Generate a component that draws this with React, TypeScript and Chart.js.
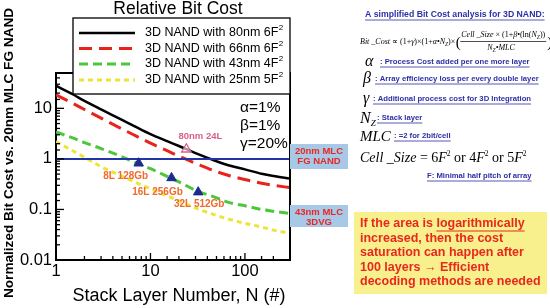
import React, { useEffect, useRef } from "react";
import { Chart, registerables } from "chart.js";

Chart.register(...registerables);

// ---- data ----
const stackLayers = [1, 1.5, 2, 3, 5, 7, 10, 15, 20, 30, 50, 70, 100, 150, 200, 300];
const cost80nm6F2 = [28, 19, 14, 9.5, 5.9, 4.3, 3.1, 2.25, 1.8, 1.3, 0.9, 0.73, 0.62, 0.51, 0.46, 0.41];
const cost66nm6F2 = [18.6, 12.6, 9.5, 6.4, 3.9, 2.85, 2.05, 1.45, 1.13, 0.82, 0.56, 0.46, 0.39, 0.33, 0.3, 0.27];
const cost43nm4F2 = [3.4, 2.6, 2.1, 1.6, 1.1, 0.84, 0.64, 0.45, 0.35, 0.24, 0.17, 0.135, 0.118, 0.1, 0.092, 0.083];
const cost25nm5F2 = [2.2, 1.45, 1.08, 0.7, 0.455, 0.34, 0.257, 0.186, 0.147, 0.107, 0.076, 0.063, 0.053, 0.045, 0.039, 0.034];
const seriesNames = ["3D NAND with 80nm 6F", "3D NAND with 66nm 6F", "3D NAND with 43nm 4F", "3D NAND with 25nm 5F"];

const productLayers = [7.5, 16.7, 32];
const productCost = [0.82, 0.42, 0.22];
const productLabels = ["8L 128Gb", "16L 256Gb", "32L 512Gb"];

const refLayers = [24];
const refCost = [1.55];
const refLabel = "80nm 24L";

const fgNandLevel = 1;
const xRange = [1, 300];
const yRange = [0.01, 50];

const paramLines = ["\u03b1=1%", "\u03b2=1%", "\u03b3=20%"];
const noteLines = [
  "If the area is logarithmically",
  "increased, then the cost",
  "saturation can happen after",
  "100 layers \u2192 Efficient",
  "decoding methods are needed",
];

const SANS = '"Liberation Sans", Arial, sans-serif';
const SERIF = '"Liberation Serif", "Times New Roman", serif';
const colors = ["#000000", "#e8231b", "#4cc63c", "#ece536"];
const dashes: number[][] = [[], [13, 7], [9, 5], [5, 4]];
const widths = [2.5, 3, 3, 3];
const BLUE_TXT = "#2d2fa6";

const isPow10 = (v: number) => Math.abs(Math.log10(v) - Math.round(Math.log10(v))) < 1e-6;

function underlineText(ctx: CanvasRenderingContext2D, text: string, x: number, y: number, color: string) {
  ctx.fillStyle = color;
  ctx.textBaseline = "middle";
  ctx.textAlign = "left";
  ctx.fillText(text, x, y);
  const w = ctx.measureText(text).width;
  ctx.strokeStyle = color;
  ctx.lineWidth = 0.8;
  ctx.setLineDash([]);
  ctx.beginPath();
  ctx.moveTo(x, y + 5);
  ctx.lineTo(x + w, y + 5);
  ctx.stroke();
}

function drawRun(ctx: CanvasRenderingContext2D, x: number, y: number, parts: [string, string, number][], color: string) {
  ctx.fillStyle = color;
  ctx.textBaseline = "alphabetic";
  ctx.textAlign = "left";
  let cx = x;
  for (const [t, f, dy] of parts) {
    ctx.font = f;
    ctx.fillText(t, cx, y + dy);
    cx += ctx.measureText(t).width;
  }
  return cx;
}

const decorPlugin = {
  id: "decor",
  afterDraw(chart: any) {
    const ctx: CanvasRenderingContext2D = chart.ctx;
    const { left, right, top, bottom } = chart.chartArea;
    const xs = chart.scales.x;
    const ys = chart.scales.y;
    ctx.save();

    // keep area above the plot clean
    ctx.fillStyle = "#fff";
    ctx.fillRect(left - 3, 0, right - left + 6, top - 1.5);

    // frame top/right
    ctx.strokeStyle = "#000";
    ctx.lineWidth = 2;
    ctx.setLineDash([]);
    ctx.beginPath();
    ctx.moveTo(left - 1, top);
    ctx.lineTo(right, top);
    ctx.lineTo(right, bottom);
    ctx.stroke();

    // inward ticks
    ctx.lineWidth = 1.3;
    for (const t of xs.ticks) {
      const px = xs.getPixelForValue(t.value);
      if (px < left + 1 || px > right - 1) continue;
      const len = isPow10(t.value) ? 7 : 4;
      ctx.beginPath();
      ctx.moveTo(px, bottom);
      ctx.lineTo(px, bottom - len);
      ctx.stroke();
    }
    for (const t of ys.ticks) {
      const py = ys.getPixelForValue(t.value);
      if (py < top + 1 || py > bottom - 1) continue;
      const len = isPow10(t.value) ? 8 : 4;
      ctx.beginPath();
      ctx.moveTo(left, py);
      ctx.lineTo(left + len, py);
      ctx.stroke();
    }

    // title
    ctx.fillStyle = "#000";
    ctx.font = `17.5px ${SANS}`;
    ctx.textAlign = "center";
    ctx.textBaseline = "middle";
    ctx.fillText("Relative Bit Cost", 178, 9);

    // axis titles
    ctx.font = `18px ${SANS}`;
    ctx.fillText("Stack Layer Number, N (#)", 179, 296);
    ctx.save();
    ctx.translate(9, 153);
    ctx.rotate(-Math.PI / 2);
    ctx.font = `bold 13.6px ${SANS}`;
    ctx.fillText("Normalized Bit Cost vs. 20nm MLC FG NAND", 0, 0);
    ctx.restore();

    // legend
    ctx.fillStyle = "#fff";
    ctx.fillRect(73, 18, 217, 76);
    ctx.strokeStyle = "#000";
    ctx.lineWidth = 1.3;
    ctx.strokeRect(73, 18, 217, 76);
    const rows = [33, 48.5, 64, 80];
    seriesNames.forEach((name, i) => {
      ctx.strokeStyle = colors[i];
      ctx.lineWidth = widths[i];
      ctx.setLineDash(dashes[i]);
      ctx.beginPath();
      ctx.moveTo(79, rows[i]);
      ctx.lineTo(135, rows[i]);
      ctx.stroke();
      ctx.setLineDash([]);
      ctx.fillStyle = "#000";
      ctx.font = `12.5px ${SANS}`;
      ctx.textAlign = "left";
      ctx.textBaseline = "middle";
      ctx.fillText(name, 145, rows[i]);
      const w = ctx.measureText(name).width;
      ctx.font = `8px ${SANS}`;
      ctx.fillText("2", 145 + w + 0.5, rows[i] - 5);
    });

    // alpha beta gamma
    ctx.fillStyle = "#000";
    ctx.font = `15.5px ${SANS}`;
    ctx.textAlign = "left";
    ctx.textBaseline = "middle";
    paramLines.forEach((t, i) => ctx.fillText(t, 240, 108 + i * 18));

    // ref label
    const rpx = xs.getPixelForValue(refLayers[0]);
    const rpy = ys.getPixelForValue(refCost[0]);
    ctx.fillStyle = "#d8608a";
    ctx.font = `bold 9.5px ${SANS}`;
    ctx.textAlign = "center";
    ctx.fillText(refLabel, rpx + 14, rpy - 13);

    // product labels
    ctx.fillStyle = "#ef6a2e";
    ctx.font = `bold 10px ${SANS}`;
    const offs = [[-13, 13], [-14, 14], [1, 12]];
    productLabels.forEach((t, i) => {
      const px = xs.getPixelForValue(productLayers[i]);
      const py = ys.getPixelForValue(productCost[i]);
      ctx.fillText(t, px + offs[i][0], py + offs[i][1]);
    });

    // blue boxes
    const boxes: [number, number, string, string][] = [
      [144, 169, "20nm MLC", "FG NAND"],
      [205, 227, "43nm MLC", "3DVG"],
    ];
    for (const [y0, y1, l1, l2] of boxes) {
      ctx.fillStyle = "#a8c8e8";
      ctx.fillRect(290, y0, 58, y1 - y0);
      ctx.fillStyle = "#e8281e";
      ctx.font = `bold 9.5px ${SANS}`;
      ctx.textAlign = "center";
      ctx.textBaseline = "middle";
      ctx.fillText(l1, 319, y0 + 7);
      ctx.fillText(l2, 319, y0 + 17);
    }

    // right panel
    ctx.font = `bold 8.7px ${SANS}`;
    underlineText(ctx, "A simplified Bit Cost analysis for 3D NAND:", 365, 15, BLUE_TXT);

    const fi = `italic 8px ${SERIF}`;
    const fu = `8px ${SERIF}`;
    const fs = `italic 5.5px ${SERIF}`;
    let cx = drawRun(ctx, 360, 44, [
      ["Bit _Cost", fi, 0], [" \u221d (1+", fu, 0], ["\u03b3", fi, 0], [")\u00d7(1+", fu, 0],
      ["\u03b1", fi, 0], ["\u2022", fu, 0], ["N", fi, 0], ["Z", fs, 2], [")\u00d7", fu, 0],
    ], "#000");
    ctx.font = `15px ${SERIF}`;
    ctx.fillStyle = "#000";
    ctx.fillText("(", cx + 0.5, 47);
    const fx = cx + 6;
    const numParts: [string, string, number][] = [
      ["Cell _Size", fi, 0], [" \u00d7 (1+", fu, 0], ["\u03b2", fi, 0], ["\u2022(ln(", fu, 0],
      ["N", fi, 0], ["Z", fs, 2], ["))", fu, 0],
    ];
    const endNum = drawRun(ctx, fx, 37, numParts, "#000");
    ctx.strokeStyle = "#000";
    ctx.lineWidth = 0.7;
    ctx.beginPath();
    ctx.moveTo(fx - 1, 41.5);
    ctx.lineTo(endNum + 1, 41.5);
    ctx.stroke();
    const mid = (fx + endNum) / 2;
    drawRun(ctx, mid - 16, 50, [["N", fi, 0], ["Z", fs, 2], ["\u2022MLC", fi, 0]], "#000");
    ctx.font = `15px ${SERIF}`;
    ctx.fillText(")", endNum + 2, 47);

    const defs: [string, number, number, string][] = [
      ["\u03b1", 365, 62, ": Process Cost added per one more layer"],
      ["\u03b2", 363, 79, ": Array efficiency loss per every double layer"],
      ["\u03b3", 363, 99, ": Additional process cost for 3D Integration"],
    ];
    const txtX = [380, 375, 373];
    defs.forEach(([g, gx, gy, t], i) => {
      ctx.fillStyle = "#000";
      ctx.font = `italic 16px ${SERIF}`;
      ctx.textBaseline = "middle";
      ctx.textAlign = "left";
      ctx.fillText(g, gx, gy);
      ctx.font = `bold 7.7px ${SANS}`;
      underlineText(ctx, t, txtX[i], gy, BLUE_TXT);
    });
    drawRun(ctx, 360, 123, [["N", `italic 16px ${SERIF}`, 0], ["Z", `italic 9px ${SERIF}`, 3]], "#000");
    ctx.font = `bold 7.7px ${SANS}`;
    underlineText(ctx, ": Stack layer", 377, 118, BLUE_TXT);
    drawRun(ctx, 360, 141, [["MLC", `italic 15px ${SERIF}`, 0]], "#000");
    ctx.font = `bold 7.7px ${SANS}`;
    underlineText(ctx, ": =2 for 2bit/cell", 394, 136, BLUE_TXT);
    const fI = `italic 14px ${SERIF}`;
    const fU = `14px ${SERIF}`;
    const fS = `7.5px ${SERIF}`;
    drawRun(ctx, 360, 162, [
      ["Cell _Size", fI, 0], [" = 6", fU, 0], ["F", fI, 0], ["2", fS, -6],
      [" or 4", fU, 0], ["F", fI, 0], ["2", fS, -6], [" or 5", fU, 0], ["F", fI, 0], ["2", fS, -6],
    ], "#000");
    ctx.font = `bold 7.7px ${SANS}`;
    underlineText(ctx, "F: Minimal half pitch of array", 427, 176, BLUE_TXT);

    // note box
    ctx.fillStyle = "#f8f08c";
    ctx.fillRect(354, 212, 193, 82);
    ctx.font = `bold 12.5px ${SANS}`;
    ctx.fillStyle = "#e8281e";
    ctx.textAlign = "left";
    ctx.textBaseline = "middle";
    noteLines.forEach((t, i) => ctx.fillText(t, 360, 224 + i * 14.5));
    const pre = ctx.measureText("If the area is ").width;
    const uw = ctx.measureText("logarithmically").width;
    ctx.strokeStyle = "#e8281e";
    ctx.lineWidth = 1.2;
    ctx.beginPath();
    ctx.moveTo(360 + pre, 231);
    ctx.lineTo(360 + pre + uw, 231);
    ctx.stroke();

    ctx.restore();
  },
};

export default function App() {
  const ref = useRef<HTMLCanvasElement>(null);
  useEffect(() => {
    if (!ref.current) return;
    const curveSets = [cost80nm6F2, cost66nm6F2, cost43nm4F2, cost25nm5F2].map((vals, i) => ({
      label: seriesNames[i],
      data: stackLayers.map((n, k) => ({ x: n, y: vals[k] })),
      borderColor: colors[i],
      borderWidth: widths[i],
      borderDash: dashes[i],
      pointRadius: 0,
      cubicInterpolationMode: "monotone" as const,
      fill: false,
    }));
    const chart = new Chart(ref.current, {
      type: "line",
      data: {
        datasets: [
          {
            label: "products",
            data: productLayers.map((n, k) => ({ x: n, y: productCost[k] })),
            showLine: false,
            pointStyle: "triangle",
            pointRadius: 5.5,
            pointBackgroundColor: "#1f2a8e",
            pointBorderColor: "#1f2a8e",
            borderColor: "#1f2a8e",
          },
          {
            label: "ref",
            data: refLayers.map((n, k) => ({ x: n, y: refCost[k] })),
            showLine: false,
            pointStyle: "triangle",
            pointRadius: 5.5,
            pointBackgroundColor: "rgba(255,255,255,0.6)",
            pointBorderColor: "#d8608a",
            pointBorderWidth: 1.3,
            borderColor: "#d8608a",
          },
          {
            label: "fg",
            data: [{ x: xRange[0], y: fgNandLevel }, { x: xRange[1], y: fgNandLevel }],
            borderColor: "#1f35a8",
            borderWidth: 2,
            pointRadius: 0,
          },
          ...curveSets,
        ],
      },
      options: {
        animation: false,
        responsive: false,
        layout: { padding: { left: 0, top: 73, right: 260, bottom: 0 } },
        plugins: { legend: { display: false }, tooltip: { enabled: false }, title: { display: false } },
        scales: {
          x: {
            type: "logarithmic",
            min: xRange[0],
            max: xRange[1],
            afterFit: (s: any) => { s.height = 48; },
            grid: { display: false, drawTicks: false },
            border: { display: true, color: "#000", width: 2 },
            ticks: {
              autoSkip: false,
              maxRotation: 0,
              padding: 2,
              color: "#000",
              font: { size: 16.5, family: SANS },
              callback: (v: any) => (isPow10(Number(v)) ? String(Math.round(Number(v))) : ""),
            },
          },
          y: {
            type: "logarithmic",
            min: yRange[0],
            max: yRange[1],
            afterFit: (s: any) => { s.width = 56; },
            grid: { display: false, drawTicks: false },
            border: { display: true, color: "#000", width: 2 },
            ticks: {
              autoSkip: false,
              padding: 4,
              color: "#000",
              font: { size: 16.5, family: SANS },
              callback: (v: any) => {
                const n = Number(v);
                if (!isPow10(n)) return "";
                const e = Math.round(Math.log10(n));
                return e >= 0 ? String(Math.pow(10, e)) : (Math.pow(10, e)).toFixed(-e);
              },
            },
          },
        },
      },
      plugins: [decorPlugin],
    } as any);
    return () => chart.destroy();
  }, []);
  return (
    <div style={{ position: "fixed", left: 0, top: 0, width: 550, height: 308, background: "#fff" }}>
      <canvas ref={ref} width={550} height={308} style={{ width: 550, height: 308, display: "block" }} />
    </div>
  );
}
